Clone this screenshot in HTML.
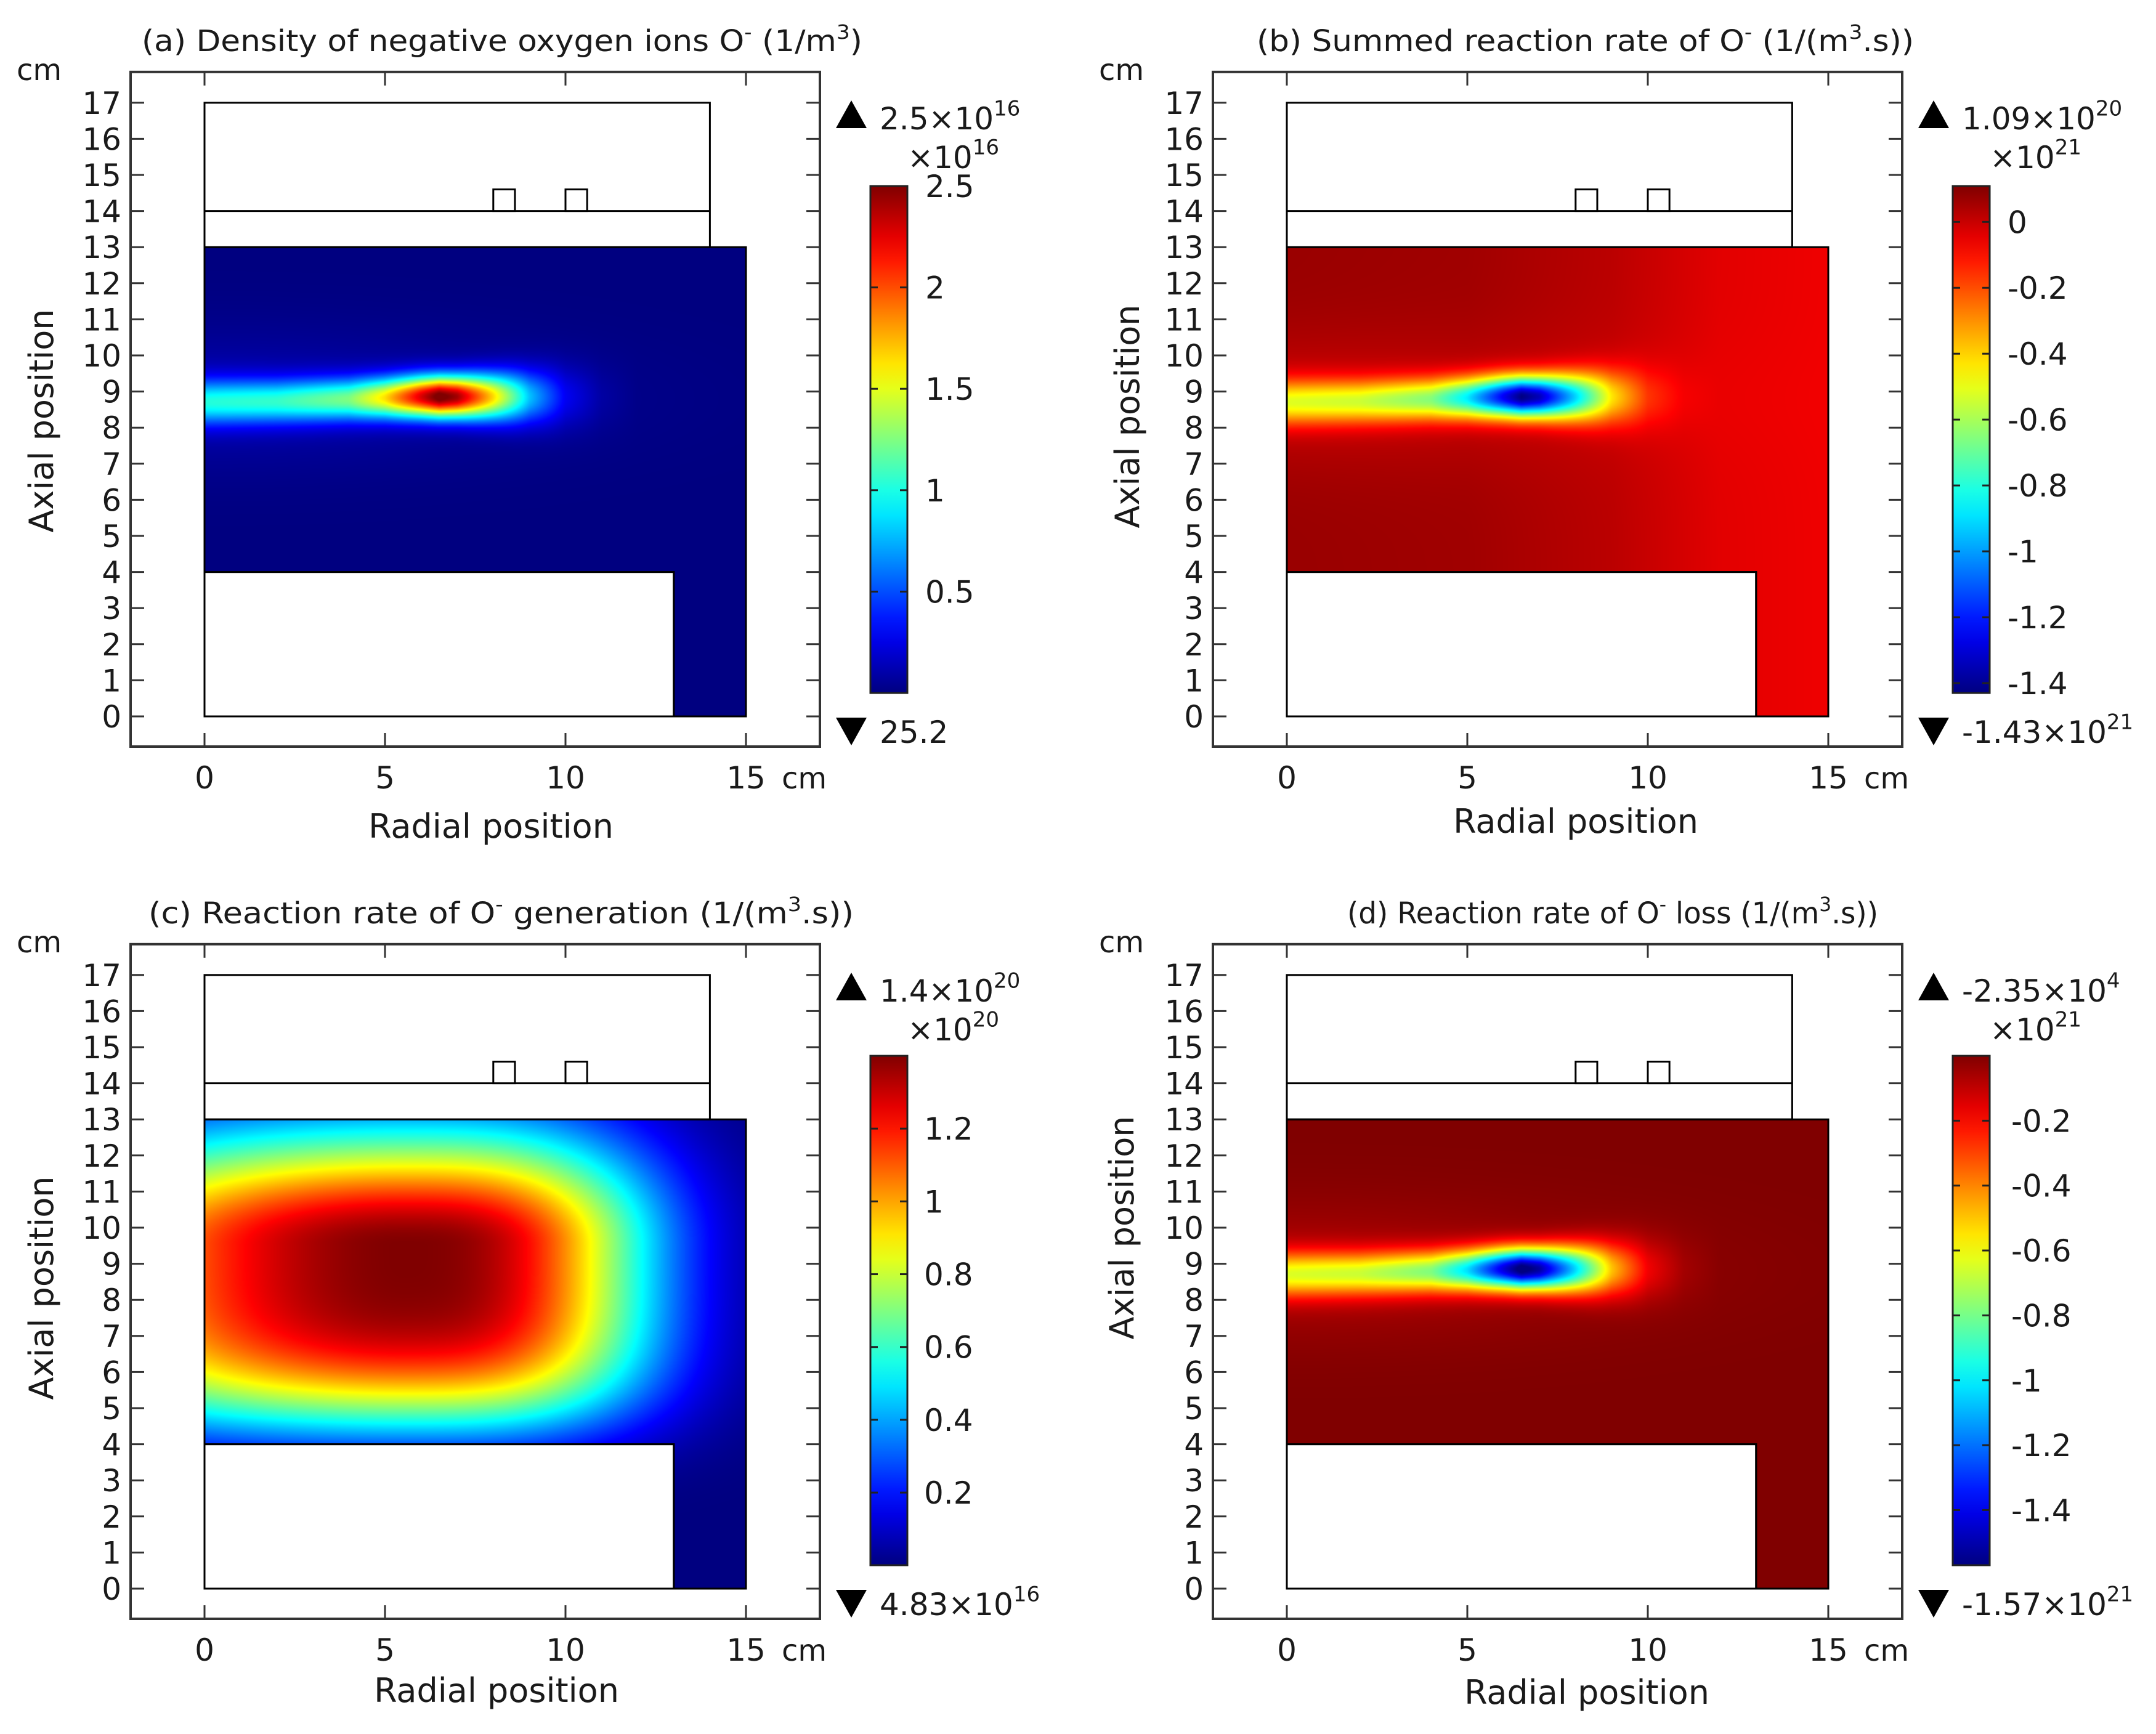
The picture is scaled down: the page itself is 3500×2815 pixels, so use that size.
<!DOCTYPE html>
<html><head><meta charset="utf-8">
<style>
html,body{margin:0;padding:0;background:#fff;}
#wrap{position:relative;width:3500px;height:2815px;overflow:hidden;background:#fff;}
canvas{position:absolute;}
svg{position:absolute;left:0;top:0;}
text{font-family:"DejaVu Sans","Liberation Sans",sans-serif;fill:#1a1a1a;}
</style></head>
<body>
<div id="wrap">
<svg id="svg" width="3500" height="2815" viewBox="0 0 3500 2815" xmlns="http://www.w3.org/2000/svg"></svg>
</div>
<script>
// ---- data ----
const rTicks = [0, 5, 10, 15];
const zTicks = [0,1,2,3,4,5,6,7,8,9,10,11,12,13,14,15,16,17];
// plume (panel a) profile along r
const plumeR = [0, 2, 4, 5, 6, 6.5, 7, 8, 9, 10, 11, 12, 15];
const plumeA = [0.9, 0.95, 1.15, 1.55, 2.2, 2.5, 2.35, 1.6, 0.75, 0.25, 0.06, 0, 0];
const plumeW = [0.62, 0.6, 0.58, 0.57, 0.57, 0.57, 0.58, 0.65, 0.75, 0.85, 0.9, 0.9, 0.9];
const plumeZ = [8.7, 8.72, 8.78, 8.82, 8.85, 8.85, 8.85, 8.85, 8.85, 8.85, 8.85, 8.85, 8.85];
const haloA = 0.12;
// panel b/d scaling of plume and backgrounds
const bScale = -0.572, dScale = -0.628;
const bBgR = [0, 5, 9, 12, 15];
const bBgV = [0.07, 0.06, 0.02, -0.04, -0.06];
// panel c generation-rate parameters
const cPeak = 1.4, cPeakR = 5.5, cPeakZ = 9.5;
const cSigUp = 3.2, cSigDown = 4.95, cSigR = 6.68, cLeftDrop = 0.2;
// colour ranges
const rangeA = [0, 2.5], rangeB = [-1.43, 0.109], rangeC = [0.000483, 1.4], rangeD = [-1.57, 0];
const cbTicksA = [0.5, 1, 1.5, 2, 2.5];
const cbLabelsA = ["0.5", "1", "1.5", "2", "2.5"];
const cbTicksB = [0, -0.2, -0.4, -0.6, -0.8, -1, -1.2, -1.4];
const cbLabelsB = ["0", "-0.2", "-0.4", "-0.6", "-0.8", "-1", "-1.2", "-1.4"];
const cbTicksC = [0.2, 0.4, 0.6, 0.8, 1, 1.2];
const cbLabelsC = ["0.2", "0.4", "0.6", "0.8", "1", "1.2"];
const cbTicksD = [-0.2, -0.4, -0.6, -0.8, -1, -1.2, -1.4];
const cbLabelsD = ["-0.2", "-0.4", "-0.6", "-0.8", "-1", "-1.2", "-1.4"];

// ---- helpers ----
const S = 58.6;
const NS = "http://www.w3.org/2000/svg";
const svg = document.getElementById('svg');
const wrap = document.getElementById('wrap');
function interp(xs, ys, x){
  if (x <= xs[0]) return ys[0];
  for (let i=1;i<xs.length;i++){ if (x <= xs[i]){ const t=(x-xs[i-1])/(xs[i]-xs[i-1]); return ys[i-1]+t*(ys[i]-ys[i-1]); } }
  return ys[ys.length-1];
}
function clamp(v){return Math.max(0,Math.min(1,v));}
function jet(t){ t=clamp(t); return [clamp(1.5-Math.abs(4*t-3)), clamp(1.5-Math.abs(4*t-2)), clamp(1.5-Math.abs(4*t-1))]; }
function plume(r,z){
  const A=interp(plumeR,plumeA,r), w=interp(plumeR,plumeW,r), zc=interp(plumeR,plumeZ,r);
  const d=(z-zc)/w;
  return A*Math.exp(-d*d) + haloA*Math.exp(-Math.pow((z-8.8)/1.8,2))*Math.exp(-Math.pow(r/9,2));
}
function fieldA(r,z){ return plume(r,z); }
function fieldB(r,z){ return interp(bBgR,bBgV,r) + bScale*plume(r,z); }
function fieldD(r,z){ return dScale*plume(r,z); }
function fieldC(r,z){
  const dz = z - cPeakZ;
  const zf = dz>0 ? Math.exp(-Math.pow(dz/cSigUp,2)) : Math.exp(-Math.pow(-dz/cSigDown,4));
  const dr = Math.max(0, r - cPeakR);
  let rf = Math.exp(-Math.pow(dr/cSigR,3));
  if (r < cPeakR) rf *= 1 - cLeftDrop*Math.pow((cPeakR-r)/cPeakR,2);
  return cPeak*zf*rf;
}
function el(tag, attrs, parent){
  const e=document.createElementNS(NS,tag);
  for (const k in attrs) e.setAttribute(k, attrs[k]);
  (parent||svg).appendChild(e); return e;
}
function txt(x,y,str,size,anchor,parent){
  const t=el('text',{x:x,y:y,'font-size':size,'text-anchor':anchor||'start'},parent);
  t.textContent=str; return t;
}
function supText(x,y,base,sup,size,anchor,name){
  const t=el('text',{x:x,y:y,'font-size':size,'text-anchor':anchor||'start'});
  
  
  const a=document.createElementNS(NS,'tspan'); a.textContent=base; t.appendChild(a);
  const b=document.createElementNS(NS,'tspan'); b.setAttribute('dy',-size*0.45); b.setAttribute('font-size',size*0.68); b.textContent=sup; t.appendChild(b);
  return t;
}

// ---- gradient ----
const defs = el('defs',{});
const grad = el('linearGradient',{id:'jetg',x1:0,y1:1,x2:0,y2:0},defs);
for (let i=0;i<=20;i++){ const c=jet(i/20); el('stop',{offset:(i/20),'stop-color':`rgb(${Math.round(c[0]*255)},${Math.round(c[1]*255)},${Math.round(c[2]*255)})`},grad); }

// ---- panels ----
const panels = [
  {id:'a', x0:332, y0:1163, field:fieldA, range:rangeA, cbTicks:cbTicksA, cbLabels:cbLabelsA,
   title:'(a) Density of negative oxygen ions O', titleTail:' (1/m', titleEnd:')', tx:230, tw:1170,
   upBase:'2.5×10', upSup:'16', mult:'16', lowBase:'25.2', lowSup:'', ax:67, ay:683, rx:797, ry:1360, cbLabX:1502},
  {id:'b', x0:2089, y0:1163, field:fieldB, range:rangeB, cbTicks:cbTicksB, cbLabels:cbLabelsB,
   title:'(b) Summed reaction rate of O', titleTail:' (1/(m', titleEnd:'.s))', tx:2040, tw:1067,
   upBase:'1.09×10', upSup:'20', mult:'21', lowBase:'-1.43×10', lowSup:'21', ax:1830, ay:676, rx:2558, ry:1352, cbLabX:3259},
  {id:'c', x0:332, y0:2579, field:fieldC, range:rangeC, cbTicks:cbTicksC, cbLabels:cbLabelsC,
   title:'(c) Reaction rate of O', titleTail:' generation  (1/(m', titleEnd:'.s))', tx:241, tw:1145,
   upBase:'1.4×10', upSup:'20', mult:'20', lowBase:'4.83×10', lowSup:'16', ax:67, ay:2091, rx:806, ry:2763, cbLabX:1500},
  {id:'d', x0:2089, y0:2579, field:fieldD, range:rangeD, cbTicks:cbTicksD, cbLabels:cbLabelsD,
   title:'(d) Reaction rate of O', titleTail:' loss (1/(m', titleEnd:'.s))', tx:2187, tw:862,
   upBase:'-2.35×10', upSup:'4', mult:'21', lowBase:'-1.57×10', lowSup:'21', ax:1821, ay:1993, rx:2576, ry:2766, cbLabX:3265}
];

panels.forEach(p=>{
  const X = r => p.x0 + r*S;
  const Y = z => p.y0 - z*S;
  const W=Math.round(15*S), H=Math.round(13*S);
  const cv=document.createElement('canvas');
  
  
  cv.width=W; cv.height=H;
  cv.style.left=X(0)+'px'; cv.style.top=Y(13)+'px';
  wrap.insertBefore(cv, svg);
  const ctx=cv.getContext('2d'); const img=ctx.createImageData(W,H);
  for (let j=0;j<H;j++){ const z=13-(j+0.5)/S;
    for (let i=0;i<W;i++){ const r=(i+0.5)/S; const k=(j*W+i)*4;
      if (z>=4 || r>=13){ const v=p.field(r,z); const c=jet((v-p.range[0])/(p.range[1]-p.range[0]));
        img.data[k]=c[0]*255; img.data[k+1]=c[1]*255; img.data[k+2]=c[2]*255; img.data[k+3]=255; }
    } }
  ctx.putImageData(img,0,0);

  const g=el('g',{});
  
  
  const fx1=X(0)-120, fx2=X(15)+120, fy1=Y(17)-50, fy2=Y(0)+49;
  const fr=el('rect',{x:fx1,y:fy1,width:fx2-fx1,height:fy2-fy1,fill:'none',stroke:'#333','stroke-width':4},g);
  
  
  zTicks.forEach(z=>{
    el('line',{x1:fx1,x2:fx1+22,y1:Y(z),y2:Y(z),stroke:'#333','stroke-width':3},g);
    el('line',{x1:fx2-22,x2:fx2,y1:Y(z),y2:Y(z),stroke:'#333','stroke-width':3},g);
    const t=txt(fx1-15,Y(z)+18,String(z),50,'end',g);
    
    
  });
  rTicks.forEach(r=>{
    el('line',{x1:X(r),x2:X(r),y1:fy2,y2:fy2-22,stroke:'#333','stroke-width':3},g);
    el('line',{x1:X(r),x2:X(r),y1:fy1,y2:fy1+22,stroke:'#333','stroke-width':3},g);
    const t=txt(X(r),fy2+68,String(r),50,'middle',g);
    
    
  });
  const cmx=txt(X(15)+58,fy2+68,'cm',48,'start',g);
  
  
  const cmy=txt(fx1-185,fy1+13,'cm',48,'start',g);
  
  
  const dom=el('polygon',{points:[[0,13],[15,13],[15,0],[13,0],[13,4],[0,4]].map(q=>X(q[0])+','+Y(q[1])).join(' '),fill:'none',stroke:'#000','stroke-width':3},g);
  
  
  const low=el('rect',{x:X(0),y:Y(4),width:13*S,height:4*S,fill:'none',stroke:'#000','stroke-width':3},g);
  
  
  const up=el('rect',{x:X(0),y:Y(17),width:14*S,height:4*S,fill:'none',stroke:'#000','stroke-width':3},g);
  
  
  el('line',{x1:X(0),x2:X(14),y1:Y(14),y2:Y(14),stroke:'#000','stroke-width':3},g);
  [8.0,10.0].forEach(r=>{
    const c=el('rect',{x:X(r),y:Y(14.6),width:0.6*S,height:0.6*S,fill:'#fff',stroke:'#000','stroke-width':3},g);
    
    
  });
  const rt=txt(p.rx,p.ry,'Radial position',54,'middle',g);
  
  
  const at=el('text',{x:0,y:0,'font-size':54,'text-anchor':'middle',transform:`translate(${p.ax+19},${p.ay}) rotate(-90)`},g);
  at.textContent='Axial position';
  
  
  const ty = p.y0 - 1080;
  const tt=el('text',{x:p.tx,y:ty,'font-size':48,textLength:p.tw,lengthAdjust:'spacingAndGlyphs'},g);
  
  
  const s1=document.createElementNS(NS,'tspan'); s1.textContent=p.title; tt.appendChild(s1);
  const s2=document.createElementNS(NS,'tspan'); s2.setAttribute('dy',-20); s2.setAttribute('font-size',32); s2.textContent='-'; tt.appendChild(s2);
  const s3=document.createElementNS(NS,'tspan'); s3.setAttribute('dy',20); s3.textContent=p.titleTail; tt.appendChild(s3);
  const s4=document.createElementNS(NS,'tspan'); s4.setAttribute('dy',-20); s4.setAttribute('font-size',32); s4.textContent='3'; tt.appendChild(s4);
  const s5=document.createElementNS(NS,'tspan'); s5.setAttribute('dy',20); s5.textContent=p.titleEnd; tt.appendChild(s5);
  const cbx=p.x0+1081, cbw=60;
  const cbTop=p.y0-(p.id==='c'||p.id==='d'?865:861), cbBot=p.y0-38;
  const V = v => cbBot - (v-p.range[0])/(p.range[1]-p.range[0])*(cbBot-cbTop);
  const cb=el('rect',{x:cbx,y:cbTop,width:cbw,height:cbBot-cbTop,fill:'url(#jetg)',stroke:'#222','stroke-width':3},g);
  
  
  p.cbTicks.forEach((v,i)=>{
    el('line',{x1:cbx,x2:cbx+12,y1:V(v),y2:V(v),stroke:'#222','stroke-width':3},g);
    el('line',{x1:cbx+cbw-12,x2:cbx+cbw,y1:V(v),y2:V(v),stroke:'#222','stroke-width':3},g);
    const t=txt(p.cbLabX,V(v)+18,p.cbLabels[i],50,'start',g);
    
    
  });
  const mx=p.x0+1025;
  const upTri=el('polygon',{points:`${mx},${p.y0-955} ${mx+50},${p.y0-955} ${mx+25},${p.y0-1000}`,fill:'#000'},g);
  
  
  supText(mx+71,p.y0-953,p.upBase,p.upSup,50,'start','max-value');
  supText(mx+265,p.y0-890,'×10',p.mult,50,'end','colorbar-multiplier');
  const dnTri=el('polygon',{points:`${mx},${p.y0+2} ${mx+50},${p.y0+2} ${mx+25},${p.y0+47}`,fill:'#000'},g);
  
  
  if (p.lowSup) supText(mx+71,p.y0+43,p.lowBase,p.lowSup,50,'start','min-value');
  else { const t=txt(mx+71,p.y0+43,p.lowBase,50,'start',g);   }
});
</script>
</body></html>
